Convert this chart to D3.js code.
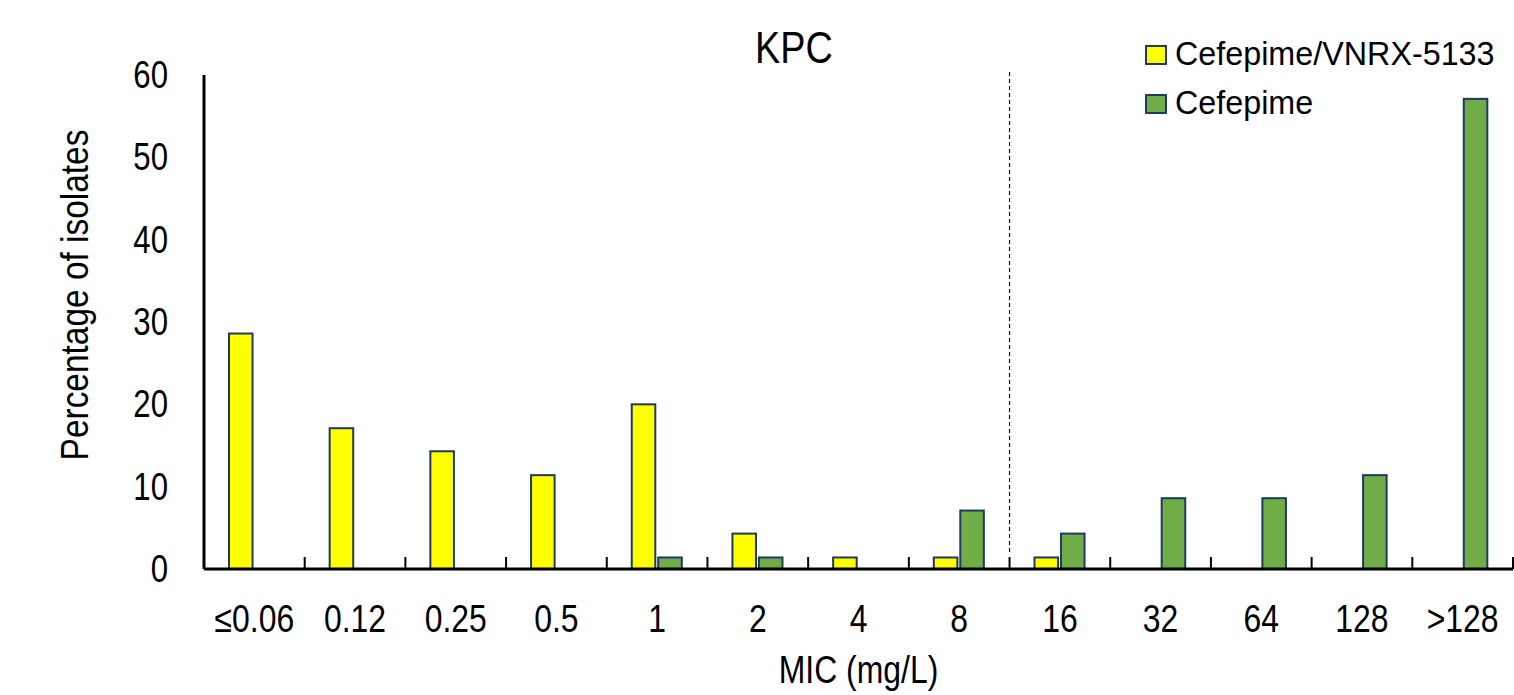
<!DOCTYPE html>
<html>
<head>
<meta charset="utf-8">
<script src="https://cdn.jsdelivr.net/npm/d3@7"></script>
<style>
  body { margin: 0; background: #fff; }
  svg { display: block; font-family: "Liberation Sans", Arial, sans-serif; }
</style>
</head>
<body>
<div id="chart"></div>
<script>
// data
const categories = ["≤0.06", "0.12", "0.25", "0.5", "1", "2", "4", "8", "16", "32", "64", "128", ">128"]
const seriesNames = ["Cefepime/VNRX-5133", "Cefepime"]
const combo = [28.6, 17.1, 14.3, 11.4, 20.0, 4.3, 1.4, 1.4, 1.4, 0, 0, 0, 0]
const cefepime = [0, 0, 0, 0, 1.4, 1.4, 0, 7.1, 4.3, 8.6, 8.6, 11.4, 57.1]
const yTicks = [0, 10, 20, 30, 40, 50, 60]
const breakpoint = "8"   // dashed line after this MIC

const width = 1514, height = 695
const margin = { top: 75, right: 1, bottom: 126, left: 204 }
const colors = { "Cefepime/VNRX-5133": "#ffff00", "Cefepime": "#70ad47" }

const rows = categories.map((c, i) => ({ cat: c, values: [combo[i], cefepime[i]] }))

const svg = d3.select("#chart").append("svg")
    .attr("width", width)
    .attr("height", height)

const x0 = d3.scaleBand()
    .domain(categories)
    .range([margin.left, width - margin.right])

const bw = x0.bandwidth()
const x1 = d3.scaleBand()
    .domain(seriesNames)
    .range([0.248 * bw, 0.745 * bw])
    .paddingInner(0.11)

const y = d3.scaleLinear()
    .domain([0, 60])
    .range([height - margin.bottom, margin.top])

// bars
const groups = svg.append("g")
    .selectAll("g")
    .data(rows)
    .join("g")
    .attr("transform", d => `translate(${x0(d.cat)},0)`)

groups.selectAll("rect")
    .data(d => d.values.map((v, i) => ({ key: seriesNames[i], value: v })).filter(d => d.value > 0))
    .join("rect")
    .attr("x", d => x1(d.key))
    .attr("width", x1.bandwidth())
    .attr("y", d => y(d.value))
    .attr("height", d => y(0) - y(d.value))
    .attr("fill", d => colors[d.key])
    .attr("stroke", "#1f3864")
    .attr("stroke-width", 2)

// x axis line + ticks pointing up at band edges
const xAxis = svg.append("g")
xAxis.append("line")
    .attr("x1", margin.left).attr("x2", width - margin.right)
    .attr("y1", y(0)).attr("y2", y(0))
    .attr("stroke", "#000").attr("stroke-width", 3)

const edges = categories.map(c => x0(c)).concat([x0.range()[1]])
xAxis.selectAll(".tk")
    .data(edges)
    .join("line")
    .attr("x1", d => d).attr("x2", d => d)
    .attr("y1", y(0)).attr("y2", y(0) - 12)
    .attr("stroke", "#000").attr("stroke-width", 2)

xAxis.selectAll("text")
    .data(categories)
    .join("text")
    .attr("transform", d => `translate(${x0(d) + bw / 2},632) scale(0.84,1)`)
    .attr("text-anchor", "middle")
    .style("font-size", "38px")
    .text(d => d)

// y axis
const yAxis = svg.append("g")
yAxis.append("line")
    .attr("x1", margin.left).attr("x2", margin.left)
    .attr("y1", y(60)).attr("y2", y(0))
    .attr("stroke", "#000").attr("stroke-width", 3)

yAxis.selectAll("text")
    .data(yTicks)
    .join("text")
    .attr("transform", d => `translate(168,${y(d) + 13}) scale(0.82,1)`)
    .attr("text-anchor", "end")
    .style("font-size", "38px")
    .text(d => d)

// breakpoint line
const bx = x0(breakpoint) + bw
svg.append("line")
    .attr("x1", bx).attr("x2", bx)
    .attr("y1", 72).attr("y2", y(0) - 14)
    .attr("stroke", "#000")
    .attr("stroke-width", 1.2)
    .attr("stroke-dasharray", "4,3")

// titles
svg.append("text")
    .attr("transform", "translate(794,63) scale(0.86,1)")
    .attr("text-anchor", "middle")
    .style("font-size", "44px")
    .text("KPC")

svg.append("text")
    .attr("transform", `translate(${(margin.left + width - margin.right) / 2},683) scale(0.84,1)`)
    .attr("text-anchor", "middle")
    .style("font-size", "38px")
    .text("MIC (mg/L)")

svg.append("text")
    .attr("transform", "translate(88,295) rotate(-90) scale(0.88,1)")
    .attr("text-anchor", "middle")
    .style("font-size", "38px")
    .text("Percentage of isolates")

// legend
const legend = svg.append("g")
    .selectAll("g")
    .data(seriesNames)
    .join("g")
    .attr("transform", (d, i) => `translate(1146,${46 + i * 49})`)

legend.append("rect")
    .attr("width", 20).attr("height", 18)
    .attr("fill", d => colors[d])
    .attr("stroke", "#1f3864")
    .attr("stroke-width", 2)

legend.append("text")
    .attr("transform", "translate(29,19) scale(0.95,1)")
    .style("font-size", "34px")
    .text(d => d)
</script>
</body>
</html>
